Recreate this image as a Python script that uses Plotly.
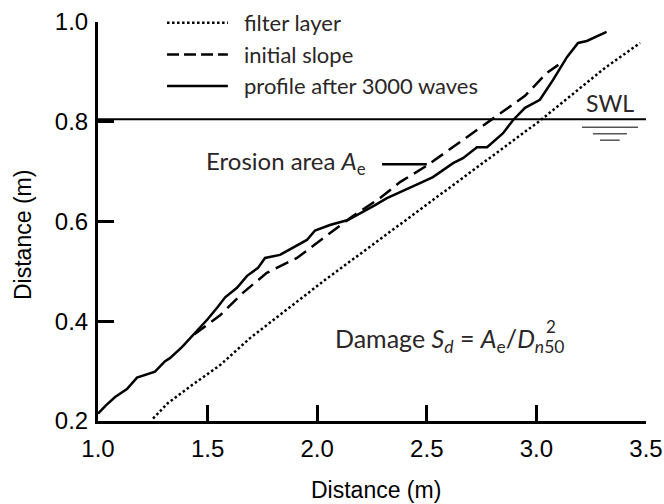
import plotly.graph_objects as go

# profile after 3000 waves (solid)
profile_x = [1.0, 1.035, 1.078, 1.132, 1.178, 1.24, 1.26, 1.306, 1.328, 1.383, 1.443, 1.50, 1.547,
             1.58, 1.634, 1.68, 1.73, 1.762, 1.83, 1.908, 1.953, 1.99, 2.058, 2.14, 2.21, 2.264,
             2.318, 2.39, 2.469, 2.528, 2.574, 2.62, 2.665, 2.729, 2.775, 2.82, 2.848, 2.893,
             2.948, 3.016, 3.076, 3.14, 3.19, 3.23, 3.32]
profile_y = [0.215, 0.231, 0.248, 0.264, 0.287, 0.295, 0.299, 0.32, 0.326, 0.348, 0.376, 0.404, 0.429,
             0.448, 0.467, 0.491, 0.507, 0.527, 0.533, 0.553, 0.563, 0.582, 0.593, 0.603, 0.619, 0.633,
             0.647, 0.662, 0.677, 0.689, 0.703, 0.717, 0.727, 0.749, 0.749, 0.767, 0.777, 0.803,
             0.828, 0.844, 0.884, 0.93, 0.958, 0.962, 0.98]

# initial slope (dashed)
initial_x = [1.44, 1.557, 1.661, 1.77, 1.908, 2.036, 2.15, 2.287, 2.378, 2.50, 2.651, 2.80, 2.948, 3.048, 3.10]
initial_y = [0.374, 0.412, 0.457, 0.497, 0.527, 0.569, 0.607, 0.647, 0.679, 0.712, 0.759, 0.807, 0.852, 0.898, 0.914]

# filter layer (dotted)
filter_x = [1.251, 1.319, 1.429, 1.557, 1.693, 1.844, 2.036, 2.104, 2.30, 2.49, 2.75, 2.948, 3.016, 3.313, 3.473]
filter_y = [0.205, 0.236, 0.272, 0.312, 0.366, 0.418, 0.483, 0.505, 0.569, 0.631, 0.715, 0.779, 0.802, 0.908, 0.958]

# still water level
swl_x = [1.0, 3.5]
swl_y = [0.805, 0.805]

legend_names = ["filter layer", "initial slope", "profile after 3000 waves"]
legend_dash = ["2.5px,2.5px", "12px,5px", "solid"]

txt_font = "Lato, 'Open Sans', sans-serif"
txt_col = "#2b2627"
ax_font = "Liberation Sans, Arial, sans-serif"

fig = go.Figure()
fig.add_trace(go.Scatter(x=filter_x, y=filter_y, mode="lines",
                         line=dict(color="black", width=2.5, dash="2.5px,2.5px"), showlegend=False))
fig.add_trace(go.Scatter(x=initial_x, y=initial_y, mode="lines",
                         line=dict(color="black", width=2.5, dash="14px,7px"), showlegend=False))
fig.add_trace(go.Scatter(x=profile_x, y=profile_y, mode="lines",
                         line=dict(color="black", width=2.5), showlegend=False))
fig.add_trace(go.Scatter(x=swl_x, y=swl_y, mode="lines",
                         line=dict(color="black", width=2), showlegend=False))

# water level symbol
for (x0, x1, yy) in [(3.208, 3.464, 0.789), (3.258, 3.413, 0.776), (3.29, 3.38, 0.763)]:
    fig.add_shape(type="line", x0=x0, x1=x1, y0=yy, y1=yy, xref="x", yref="y",
                  line=dict(color="#555", width=1.5))

# erosion area pointer
fig.add_shape(type="line", x0=2.296, x1=2.50, y0=0.715, y1=0.715, xref="x", yref="y",
              line=dict(color="black", width=2.5))

# hand drawn legend
rows = [0.998, 0.9185, 0.8396]
for name, dash, yy in zip(legend_names, legend_dash, rows):
    fig.add_shape(type="line", x0=0.126, x1=0.237, y0=yy, y1=yy, xref="paper", yref="paper",
                  line=dict(color="black", width=2.5, dash=dash))
    fig.add_annotation(x=0.263, y=yy, xref="paper", yref="paper", text=name, showarrow=False,
                       xanchor="left", yanchor="middle", font=dict(family=txt_font, size=22, color=txt_col))

fig.add_annotation(x=3.336, y=0.838, text="SWL", showarrow=False,
                   font=dict(family=txt_font, size=23, color=txt_col))
fig.add_annotation(x=2.232, y=0.719, text="Erosion area <i>A</i><sub>e</sub>", showarrow=False,
                   xanchor="right", yanchor="middle", font=dict(family=txt_font, size=24, color=txt_col))
fig.add_annotation(x=2.072, y=0.362,
                   text="Damage <i>S<sub>d</sub></i> = <i>A</i><sub>e</sub>/<i>D</i><sub><i>n</i>50</sub>",
                   showarrow=False, xanchor="left", yanchor="middle",
                   font=dict(family=txt_font, size=25, color=txt_col))
fig.add_annotation(x=3.065, y=0.39, text="2", showarrow=False,
                   font=dict(family=txt_font, size=17, color=txt_col))

# axis titles
fig.add_annotation(x=0.507, y=-0.173, xref="paper", yref="paper", text="Distance (m)", showarrow=False,
                   xanchor="center", yanchor="middle", font=dict(family=ax_font, size=23, color="black"))
fig.add_annotation(x=-0.137, y=0.466, xref="paper", yref="paper", text="Distance (m)", showarrow=False,
                   xanchor="center", yanchor="middle", textangle=-90,
                   font=dict(family=ax_font, size=23, color="black"))

axis_style = dict(showline=True, linecolor="black", linewidth=3, ticks="inside", ticklen=16,
                  tickwidth=2.5, tickcolor="black", showgrid=False, zeroline=False,
                  tickfont=dict(family=ax_font, size=24, color="black"),
                  tickformat=".1f", ticklabeloverflow="allow")
fig.update_xaxes(range=[1.0, 3.5], dtick=0.5, tick0=1.0, ticklabelstandoff=4, **axis_style)
fig.update_yaxes(range=[0.2, 1.0], dtick=0.2, tick0=0.2, ticklabelstandoff=2, **axis_style)
fig.update_layout(width=664, height=504, plot_bgcolor="white", paper_bgcolor="white",
                  margin=dict(l=98, r=18, t=22, b=83, autoexpand=False))

# drop the browser's default 8px body margin so the figure fills the window
fig.write_html("out.html", config={"displayModeBar": False},
               post_script="document.body.style.margin='0';")
